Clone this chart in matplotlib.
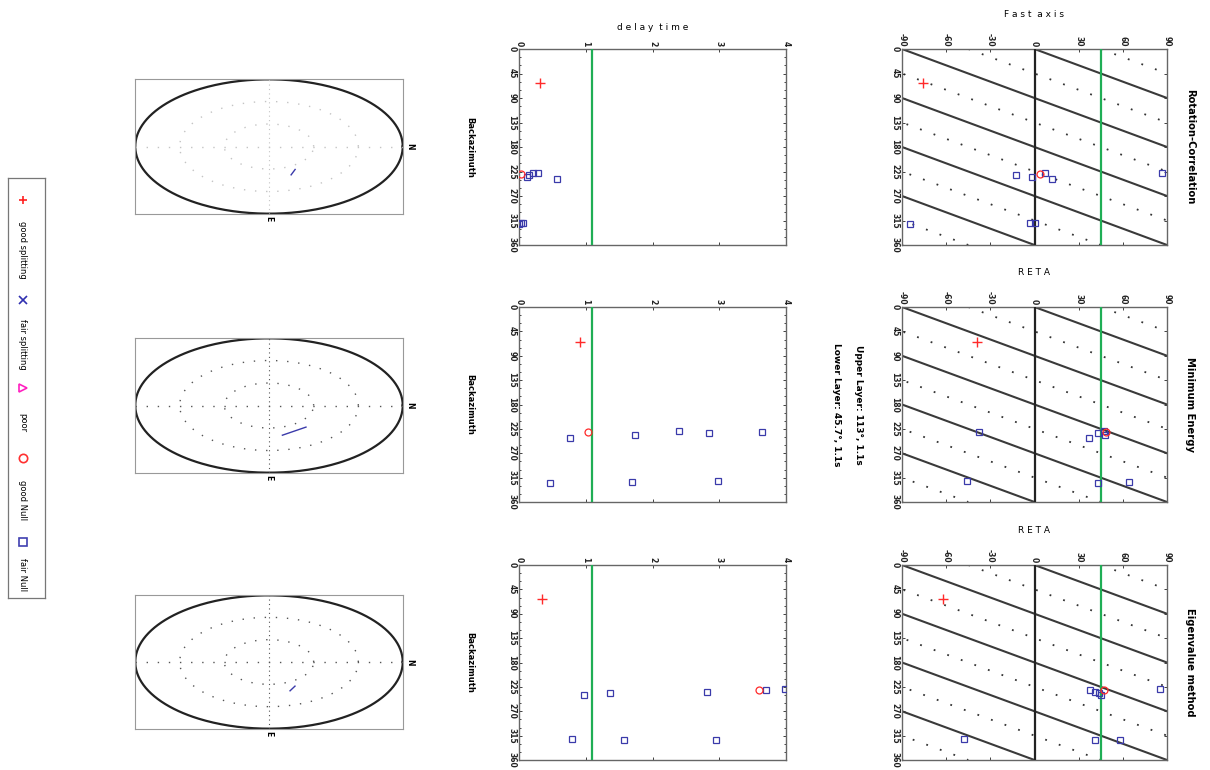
import numpy as np
import matplotlib
matplotlib.use("Agg")
import matplotlib.pyplot as plt

W, H = 1210, 770
fig = plt.figure(figsize=(W / 100, H / 100), dpi=100)
plt.rcParams['font.family'] = ['DejaVu Sans']

# ---------------- data ----------------
methods = ["Rotation-Correlation", "Minimum Energy", "Eigenvalue method"]
fast_titles = ["F a s t  a x i s", "R E T A", "R E T A"]
fast_ticks = [-90, -60, -30, 0, 30, 60, 90]
baz_ticks = [0, 45, 90, 135, 180, 225, 270, 315, 360]
dt_ticks = [0, 1, 2, 3, 4]
model_phi = 45      # green line (fast axis)
model_dt = 1.1      # green line (delay)
ref_phi = 0         # black vertical line

# good splitting (+, red)
good_baz = [63, 64, 63]
good_phi = [-76, -39, -62]
good_dt = [0.31, 0.91, 0.35]

# good Null (circle, red)
gnull_baz = [229, 231, 230]
gnull_phi = [4, 48.8, 47]
gnull_dt = [0.03, 1.04, 3.59]

# fair Null (square, blue) per method
fnull_baz = [
    [232, 235, 227, 238, 228, 322, 319, 320],
    [230, 241, 232, 228, 237, 324, 321, 323],
    [230, 234, 237, 240, 228, 321, 323, 323],
]
fnull_phi = [
    [-12.4, -1.7, 7.3, 11.9, 86.6, -84.8, -2.8, 0.5],
    [-38, 36.8, 42.9, 47.4, 48.1, 42.9, -45.8, 64],
    [37.9, 41.3, 43.6, 45.2, 85.5, -48.1, 41.3, 57.9],
]
fnull_dt = [
    [0.15, 0.12, 0.21, 0.57, 0.29, 0.0, 0.06, 0.03],
    [3.64, 0.76, 2.84, 2.40, 1.74, 0.46, 2.98, 1.69],
    [3.70, 2.81, 1.36, 0.97, 3.99, 0.80, 1.57, 2.95],
]

# stereonet short segments (normalised stereonet coords)
seg_x = [[0.165, 0.195], [0.10, 0.276], [0.157, 0.194]]
seg_y = [[-0.42, -0.34], [-0.44, -0.32], [-0.43, -0.36]]

legend_labels = ["good splitting", "fair splitting", "poor", "good Null", "fair Null"]
legend_markers = ["+", "x", ">", "o", "s"]
legend_colors = ["#ff2020", "#3030b0", "#ff20c0", "#ff3030", "#4040b0"]

layer_text = ["Upper Layer: 113°, 1.1s", "Lower Layer: 45.7°, 1.1s"]

# ---------------- layout ----------------
rows = [(49, 245), (307, 502), (565, 760)]
stereo_rows = [(79, 214), (338, 473), (595, 729)]
FAST_X = (902, 1167)
DT_X = (519, 786)
ST_X = (135, 403)

BLUE = "#3a3aaa"
RED = "#ff2a2a"
GREEN = "#1fae55"
FRAME = "#666666"


def px_axes(x0, y0, x1, y1):
    return fig.add_axes([x0 / W, 1 - y1 / H, (x1 - x0) / W, (y1 - y0) / H])


def style_frame(ax):
    for s in ax.spines.values():
        s.set_color(FRAME)
        s.set_linewidth(1.0)


def plot_points(ax, xs_good, ys_good, xs_null, ys_null, xs_f, ys_f):
    ax.plot(xs_f, ys_f, 's', ms=4.5, mfc='none', mec=BLUE, mew=0.9, zorder=5)
    ax.plot(xs_null, ys_null, 'o', ms=5, mfc='none', mec=RED, mew=0.9, zorder=6)
    ax.plot(xs_good, ys_good, '+', ms=7, color=RED, mew=1.0, zorder=6)


for i, (y0, y1) in enumerate(rows):
    # ---------- fast axis panel ----------
    ax = px_axes(FAST_X[0], y0, FAST_X[1], y1)
    ax.set_xlim(-90, 90)
    ax.set_ylim(360, 0)
    baz = np.array([0, 360])
    for k in range(-1, 6):
        ax.plot(baz - 90 * k, baz, '-', color='#3a3a3a', lw=1.5, zorder=2)
        ax.plot(baz - 45 - 90 * k, baz, color='#333333', lw=1.3,
                linestyle=(0, (1, 7)), zorder=1)
    ax.axvline(ref_phi, color='#222222', lw=1.6, zorder=3)
    ax.axvline(model_phi, color=GREEN, lw=1.6, zorder=3)
    plot_points(ax, good_phi[i], good_baz[i], gnull_phi[i], gnull_baz[i],
                fnull_phi[i], fnull_baz[i])
    ax.xaxis.tick_top()
    ax.set_xticks(fast_ticks)
    ax.set_xticklabels([str(t) for t in fast_ticks], rotation=-90, fontsize=5.5,
                       fontweight='bold')
    ax.set_yticks(baz_ticks)
    ax.set_yticklabels([str(t) for t in baz_ticks], rotation=-90, fontsize=5.5,
                       fontweight='bold', va='center')
    ax.tick_params(direction='in', length=2.5, width=0.6, colors='#222222',
                   top=True, bottom=True, left=True, right=True, pad=2)
    style_frame(ax)
    ax.text(0.5, 1.0 + 30 / (y1 - y0), fast_titles[i], transform=ax.transAxes,
            ha='center', va='bottom', fontsize=6.5)
    fig.text((FAST_X[1] + 23) / W, 1 - ((y0 + y1) / 2) / H, methods[i],
             rotation=-90, ha='center', va='center', fontsize=8,
             fontweight='bold', stretch='condensed')

    # ---------- delay time panel ----------
    ax = px_axes(DT_X[0], y0, DT_X[1], y1)
    ax.set_xlim(0, 4)
    ax.set_ylim(360, 0)
    ax.axvline(model_dt, color=GREEN, lw=1.6, zorder=3)
    plot_points(ax, good_dt[i], good_baz[i], gnull_dt[i], gnull_baz[i],
                fnull_dt[i], fnull_baz[i])
    ax.xaxis.tick_top()
    ax.set_xticks(dt_ticks)
    ax.set_xticklabels([str(t) for t in dt_ticks], rotation=-90, fontsize=5.5,
                       fontweight='bold')
    ax.set_yticks(baz_ticks)
    ax.set_yticklabels([str(t) for t in baz_ticks], rotation=-90, fontsize=5.5,
                       fontweight='bold', va='center')
    ax.set_yticks(np.arange(0, 361, 15), minor=True)
    ax.tick_params(direction='in', length=2.5, width=0.6, colors='#222222',
                   top=True, bottom=True, left=True, right=True, pad=2)
    ax.tick_params(which='minor', direction='in', length=1.2, width=0.5,
                   left=True, right=True)
    style_frame(ax)
    if i == 0:
        ax.text(0.5, 1.0 + 17 / (y1 - y0), "d e l a y  t i m e",
                transform=ax.transAxes, ha='center', va='bottom', fontsize=6.5)
    fig.text(470 / W, 1 - ((y0 + y1) / 2) / H, "Backazimuth", rotation=-90,
             ha='center', va='center', fontsize=6, fontweight='bold')

    # ---------- stereonet panel ----------
    sy0, sy1 = stereo_rows[i]
    ax = px_axes(ST_X[0], sy0, ST_X[1], sy1)
    ax.set_xlim(-1, 1)
    ax.set_ylim(-1, 1)
    t = np.linspace(0, 2 * np.pi, 400)
    ax.plot(np.cos(t) * 0.998, np.sin(t) * 0.995, color='#222222', lw=1.6)
    dcol = '#c4c4c4' if i == 0 else '#555555'
    for r in (1 / 3, 2 / 3):
        ax.plot(r * np.cos(t), r * np.sin(t), color=dcol, lw=1.0,
                linestyle=(0, (1, 7)))
    ax.plot([-1, 1], [0, 0], color=dcol, lw=1.0, linestyle=(0, (1, 7)))
    ax.plot([0, 0], [-1, 1], color=dcol, lw=0.8, linestyle=(0, (1, 3)))
    ax.plot(seg_x[i], seg_y[i], '-', color=BLUE, lw=1.0)
    ax.set_xticks([])
    ax.set_yticks([])
    for s in ax.spines.values():
        s.set_color('#999999')
        s.set_linewidth(0.8)
    ax.text(1.015, 0, "N", rotation=-90, ha='left', va='center', fontsize=5.5,
            fontweight='bold', clip_on=False)
    ax.text(0, -1.03, "E", rotation=-90, ha='center', va='top', fontsize=5.5,
            fontweight='bold', clip_on=False)

# Layer text
fig.text(858 / W, 1 - 405 / H, layer_text[0], rotation=-90, ha='center',
         va='center', fontsize=6.5, fontweight='bold')
fig.text(836 / W, 1 - 405 / H, layer_text[1], rotation=-90, ha='center',
         va='center', fontsize=6.5, fontweight='bold')

# ---------------- legend ----------------
lax = px_axes(8, 178, 45, 598)
lax.set_xlim(0, 1)
lax.set_ylim(420, 0)
lax.set_xticks([])
lax.set_yticks([])
for s in lax.spines.values():
    s.set_color('#777777')
    s.set_linewidth(0.9)
mark_y = [22, 122, 210, 280, 364]
text_y = [72, 166, 245, 322, 397]
for m, c, lab, my, ty in zip(legend_markers, legend_colors, legend_labels,
                             mark_y, text_y):
    lax.plot([0.4], [my], m, color=c, mfc='none', mec=c, ms=6, mew=1.2)
    lax.text(0.4, ty, lab, rotation=-90, ha='center', va='center', fontsize=6)

fig.savefig("out.png", dpi=100, facecolor='white')
